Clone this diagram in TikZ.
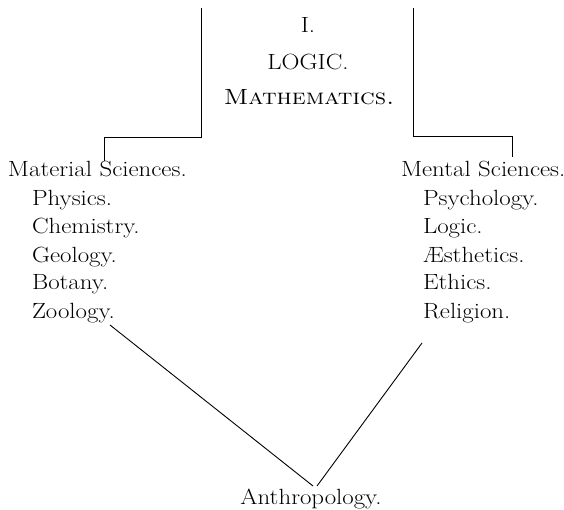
\documentclass[tikz,border=0pt]{standalone}
\usepackage{graphicx}
\newcommand{\mywide}[1]{\scalebox{1.13}[1]{#1}}
\begin{document}
\begin{tikzpicture}[x=1pt,y=-1pt,
  txt/.style={inner sep=0pt,outer sep=0pt,font=\fontsize{22}{26}\selectfont},
  ctr/.style={txt,anchor=base},
  lft/.style={txt,anchor=base west},
  ln/.style={line width=0.9pt,black}]
\useasboundingbox (0,0) rectangle (564,510);
% centre heading
\node[ctr] (one) at (308,33) {\mywide{I.}};
\node[ctr] (logic) at (308,70) {\mywide{LOGIC.}};
\node[ctr] (math) at (309,105) {\mywide{\textsc{Mathematics.}}};
% material sciences
\node[lft] (mat) at (8,177) {\mywide{Material Sciences.}};
\node[lft] (phys) at (32,206) {\mywide{Physics.}};
\node[lft] (chem) at (32,234) {\mywide{Chemistry.}};
\node[lft] (geol) at (32,262) {\mywide{Geology.}};
\node[lft] (bot) at (32,290) {\mywide{Botany.}};
\node[lft] (zool) at (32,318) {\mywide{Zoology.}};
% mental sciences
\node[lft] (ment) at (401,177) {\mywide{Mental Sciences.}};
\node[lft] (psy) at (423,206) {\mywide{Psychology.}};
\node[lft] (logc) at (423,234) {\mywide{Logic.}};
\node[lft] (aes) at (423,262) {\mywide{\AE sthetics.}};
\node[lft] (eth) at (423,290) {\mywide{Ethics.}};
\node[lft] (rel) at (423,318) {\mywide{Religion.}};
% anthropology
\node[ctr] (anth) at (311,504) {\mywide{Anthropology.}};
% connector points
\coordinate (ltop) at (201,8);
\coordinate (lcor) at (201,137);
\coordinate (lbend) at (104,137);
\coordinate (ltick) at (104,161);
\coordinate (rtop) at (413,8);
\coordinate (rcor) at (413,136);
\coordinate (rbend) at (512,136);
\coordinate (rtick) at (512,157);
\coordinate (vl) at (110,325);
\coordinate (vr) at (422,343);
\coordinate (apexl) at (313,486);
\coordinate (apexr) at (317,486);
% connectors
\draw[ln] (ltop) -- (lcor) -- (lbend) -- (ltick);
\draw[ln] (rtop) -- (rcor) -- (rbend) -- (rtick);
\draw[ln] (vl) -- (apexl);
\draw[ln] (vr) -- (apexr);
\end{tikzpicture}
\end{document}
